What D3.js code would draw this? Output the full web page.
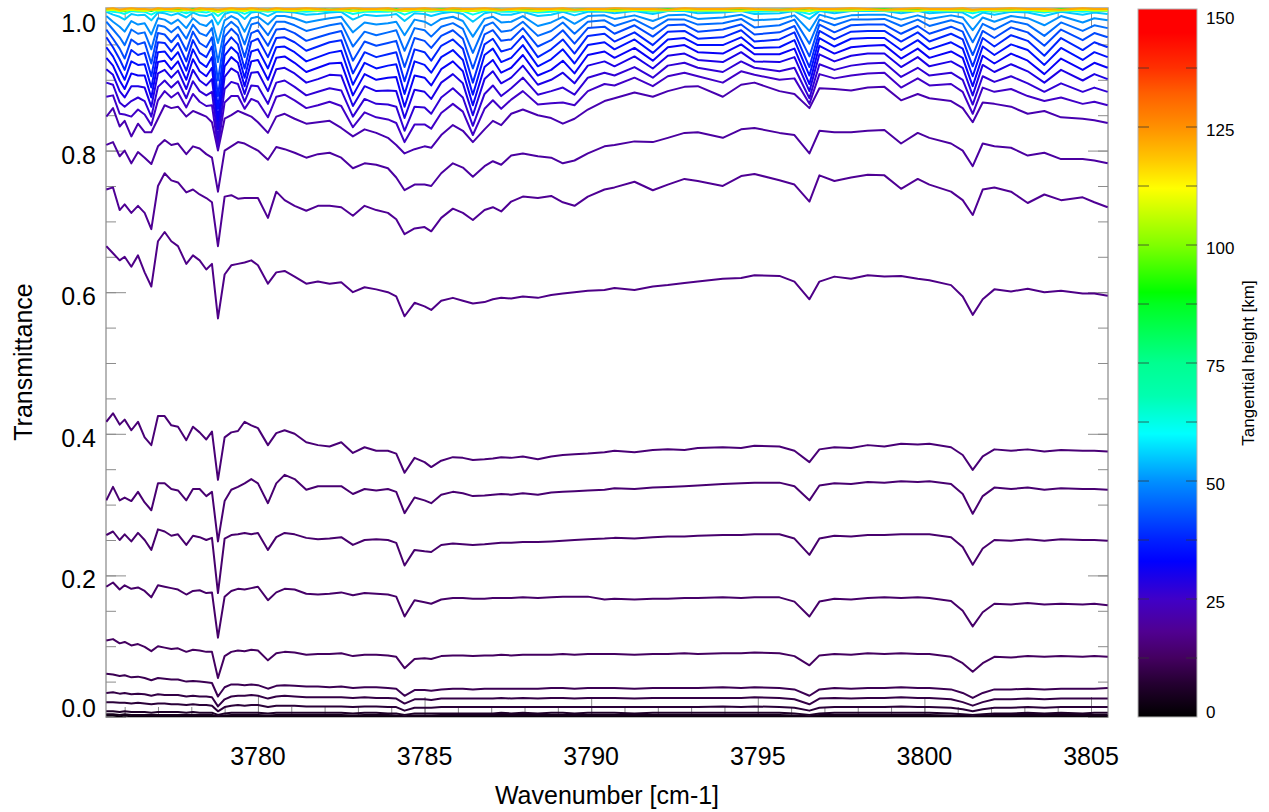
<!DOCTYPE html>
<html>
<head>
<meta charset="utf-8">
<title>Limb transmittance spectra</title>
<script src="https://cdn.jsdelivr.net/npm/d3@7/dist/d3.min.js"></script>
<style>
  html, body { margin: 0; padding: 0; background: #fff; }
  svg { display: block; font-family: "Liberation Sans", Arial, Helvetica, sans-serif; }
</style>
</head>
<body>
<svg id="chart" width="1269" height="812"></svg>
<script>
// Wavenumber grid (cm-1) shared by every spectrum
const wavenumbers = [
  3775.45,3775.65,3775.85,3776.0,3776.2,3776.4,3776.6,3776.8,3777.0,3777.2,
  3777.4,3777.6,3777.85,3778.05,3778.25,3778.45,3778.62,3778.8,3779.0,3779.2,
  3779.4,3779.6,3779.8,3780.0,3780.3,3780.55,3780.8,3781.1,3781.45,3781.8,
  3782.15,3782.5,3782.85,3783.2,3783.55,3783.9,3784.15,3784.4,3784.7,3785.0,
  3785.2,3785.5,3785.85,3786.15,3786.45,3786.8,3787.05,3787.3,3787.6,3787.95,
  3788.4,3788.8,3789.15,3789.5,3789.9,3790.4,3790.7,3791.3,3791.85,3792.3,
  3792.8,3793.2,3793.95,3794.5,3794.9,3795.65,3796.1,3796.55,3796.85,3797.3,
  3797.8,3798.3,3798.8,3799.3,3799.8,3800.15,3800.8,3801.15,3801.45,3801.75,
  3802.1,3802.6,3803.1,3803.6,3804.1,3804.75,3805.1,3805.5];

// Transmittance in thousandths, one array per tangent height
const tr02km = [
  2,2,1,2,1,1,1,1,1,1, 1,1,1,1,1,1,1,0,1,1, 1,1,1,1,1,1,1,1,1,1,
  1,1,1,1,1,1,1,0,1,1, 1,1,1,1,1,1,1,1,1,1, 1,1,1,1,1,1,1,1,1,1,
  1,1,1,1,1,1,1,0,1,1, 1,1,1,1,1,1,1,1,0,1, 1,1,1,1,1,1,1,1];
const tr04km = [
  4,4,3,4,3,3,3,3,3,3, 3,3,3,3,3,3,3,1,2,3, 3,3,3,3,2,3,3,3,3,3,
  3,3,2,3,3,3,2,1,2,2, 2,3,3,3,3,3,3,3,3,3, 3,3,3,3,3,3,3,3,3,3,
  3,3,3,3,3,3,2,1,3,3, 3,3,3,3,3,3,2,2,1,2, 3,3,3,3,3,3,3,3];
const tr06km = [
  8,8,7,8,7,7,7,6,7,7, 7,7,6,7,6,6,6,3,5,6, 6,6,6,6,5,6,6,6,6,6,
  6,6,5,6,6,5,5,3,5,5, 5,5,5,5,5,5,5,6,5,6, 5,6,6,5,6,6,6,5,6,6,
  6,6,6,6,6,6,5,3,5,6, 6,6,6,6,6,6,5,4,3,4, 5,5,6,5,6,5,6,6];
const tr08km = [
  21,21,20,20,19,20,19,18,19,19, 18,18,17,18,17,17,16,8,14,16,
  17,16,17,17,14,16,16,16,15,15, 15,15,14,15,15,14,14,9,13,13,
  13,14,14,14,14,14,14,14,14,14, 14,14,14,14,14,14,14,14,14,14,
  14,14,15,14,15,14,13,9,13,14, 14,14,14,15,14,14,13,11,8,11,
  13,13,14,13,14,14,14,14];
const tr09_5km = [
  34,35,33,34,32,33,32,30,32,31, 31,31,29,30,29,29,28,15,25,29,
  30,30,31,30,26,29,30,29,28,28, 28,28,27,28,27,27,26,19,25,25,
  24,26,26,26,26,26,26,27,26,27, 26,27,27,26,27,27,27,26,27,27,
  27,27,27,27,28,27,25,18,26,27, 26,27,27,28,27,27,25,21,16,21,
  25,25,26,25,26,26,26,26];
const tr11km = [
  61,60,58,59,56,57,55,52,55,54, 53,53,50,51,50,49,48,29,42,46,
  46,45,46,45,40,44,45,44,43,43, 42,43,41,42,42,41,40,30,38,38,
  37,39,40,40,39,40,40,40,40,40, 40,41,41,40,41,41,41,40,41,41,
  41,41,42,41,42,41,39,30,39,41, 40,41,41,42,41,41,39,34,27,34,
  39,39,40,39,40,40,40,41];
const tr12_5km = [
  108,110,104,106,101,103,99,93,100,98, 96,97,92,95,94,92,92,55,86,92,
  94,93,95,94,80,90,92,91,88,89, 89,90,86,88,88,87,85,69,82,83,
  82,86,87,87,86,87,87,88,87,88, 88,88,89,88,89,89,89,88,89,89,
  90,89,90,90,91,90,86,73,87,89, 88,90,89,90,89,89,85,76,64,76,
  85,84,86,85,86,85,86,85];
const tr13_5km = [
  184,190,180,186,181,183,178,169,186,184, 182,180,173,178,179,175,176,112,170,178,
  181,180,182,184,165,176,181,180,174,173, 174,176,172,175,174,173,170,142,165,162,
  160,166,168,168,167,167,168,168,168,169, 168,169,170,170,170,166,167,166,167,167,
  168,168,169,168,169,169,163,142,163,167, 166,168,169,168,169,168,164,150,128,148,
  160,159,161,159,160,159,160,158];
const tr14km = [
  257,262,250,258,248,260,250,236,265,262, 256,258,243,256,254,250,253,175,252,257,
  258,260,258,260,236,254,260,258,253,251, 252,254,243,250,251,250,246,214,236,234,
  233,243,245,244,243,244,245,246,246,247, 247,248,249,250,251,252,253,252,254,255,
  255,256,257,257,258,258,252,229,252,256, 255,257,257,258,258,258,254,240,215,238,
  250,249,251,249,251,250,250,249];
const tr14_5km = [
  306,325,306,310,305,318,303,292,330,330, 322,320,306,322,322,312,318,248,305,321,
  325,330,336,330,302,330,342,336,321,326, 326,326,315,322,320,322,318,288,310,306,
  302,314,318,316,312,313,314,315,314,316, 314,317,318,319,320,321,323,322,324,325,
  326,327,329,330,331,331,326,306,327,330, 329,332,331,333,332,333,329,315,287,312,
  324,322,324,321,323,322,322,321];
const tr15km = [
  417,429,413,420,405,417,395,384,425,425, 412,410,391,410,402,392,403,335,395,402,
  404,417,412,408,384,401,405,400,388,384, 382,388,373,381,376,376,372,345,366,360,
  353,362,367,366,363,364,365,367,366,368, 364,368,370,371,372,374,376,374,377,378,
  377,380,381,380,383,382,376,360,378,381, 380,384,382,386,385,386,381,370,349,368,
  378,376,378,375,377,376,376,375];
const tr17km = [
  665,655,645,650,636,652,628,608,672,685, 672,665,640,652,645,632,640,563,625,638,
  640,642,645,638,612,628,630,622,612,615, 612,614,600,607,604,600,594,566,585,580,
  575,588,592,588,584,586,590,592,591,594, 592,596,598,600,602,603,606,603,608,610,
  613,615,619,620,624,623,615,590,615,622, 619,624,622,623,619,617,610,594,568,590,
  604,601,605,600,602,598,598,595];
const tr18_5km = [
  745,748,716,724,712,722,712,689,750,768, 758,755,741,745,738,733,727,665,735,737,
  732,733,733,733,705,742,730,722,715,722, 722,720,708,722,716,712,703,682,690,692,
  686,705,718,712,702,716,720,714,728,735, 733,736,727,722,735,745,748,756,744,752,
  760,757,750,764,767,758,752,728,765,757, 762,766,765,746,760,752,742,730,709,745,
  748,742,726,738,730,734,727,720];
const tr20km = [
  808,812,792,800,782,798,790,781,806,815, 808,810,795,806,803,795,790,742,800,806,
  812,810,805,800,787,805,802,797,790,795, 797,790,775,782,780,775,762,744,752,752,
  750,768,782,776,763,778,785,780,793,796, 792,790,782,786,796,806,808,813,812,818,
  825,826,818,830,832,825,822,796,828,826, 826,828,829,810,825,818,810,800,778,810,
  806,804,793,797,788,788,786,782];
const tr22km = [
  848,860,834,842,820,838,826,826,845,864, 860,862,848,856,852,848,840,800,845,850,
  856,852,848,840,825,848,852,845,838,840, 842,832,820,830,825,818,808,796,802,806,
  804,822,836,828,812,830,842,836,852,858, 850,846,838,845,858,870,874,882,876,884,
  890,891,876,893,896,884,880,860,888,887, 885,889,890,871,880,874,870,860,840,868,
  866,862,852,856,847,845,843,839];
const tr25km = [
  876,878,852,851,848,858,851,836,871,884, 875,882,861,880,869,863,864,805,868,877,
  877,859,873,869,847,876,879,871,860,864, 869,863,833,854,847,844,839,812,837,837,
  831,853,866,855,822,859,871,859,872,884, 865,867,868,864,884,894,892,903,891,905,
  910,905,896,912,907,900,902,866,908,902, 906,909,910,889,902,892,894,883,852,889,
  883,887,877,870,875,866,869,864];
const tr27km = [
  896,893,868,862,870,875,870,848,890,899, 889,898,874,898,884,878,883,816,887,897,
  894,869,892,891,866,896,899,890,878,883, 888,885,848,873,866,865,862,828,862,861,
  852,875,888,875,835,880,892,877,888,903, 879,884,889,879,903,910,906,918,903,920,
  924,917,911,926,917,912,917,874,922,914, 920,923,924,904,917,906,910,900,865,905,
  897,905,895,883,895,883,889,883];
const tr29_5km = [
  915,907,884,875,891,891,889,862,909,914, 903,913,887,914,899,892,901,830,904,916,
  910,880,910,911,884,915,917,909,896,901, 907,906,863,891,884,885,884,846,886,883,
  873,896,908,895,850,901,912,895,903,920, 893,900,910,895,920,926,919,933,916,934,
  937,928,925,939,926,925,932,884,936,926, 934,937,937,918,932,919,926,917,878,921,
  911,922,912,896,914,899,908,901];
const tr32km = [
  931,920,899,887,909,906,906,875,925,927, 915,926,900,929,912,905,917,843,919,932,
  924,891,926,928,900,931,933,924,911,917, 923,924,878,908,900,903,904,862,906,903,
  892,915,926,912,864,918,928,910,917,935, 906,914,927,909,935,940,931,945,927,946,
  949,939,937,950,936,936,944,894,948,937, 946,948,949,930,944,931,940,931,891,934,
  923,937,927,908,930,914,924,917];
const tr35km = [
  946,933,914,900,926,921,922,889,939,940, 928,939,913,943,925,918,932,859,934,946,
  937,903,940,943,916,946,947,939,926,932, 938,941,893,924,916,920,922,880,926,921,
  910,932,942,928,879,935,944,925,931,949, 919,929,943,923,949,953,943,957,938,957,
  959,949,949,960,945,946,956,906,959,947, 958,959,959,942,956,943,953,944,905,947,
  935,950,942,921,945,928,939,932];
const tr38km = [
  960,946,929,914,942,935,938,905,953,952, 940,952,926,956,938,932,947,877,948,960,
  950,916,954,958,932,959,960,953,941,947, 953,956,909,939,932,936,939,898,943,939,
  927,948,957,944,896,950,958,940,944,962, 932,943,957,937,962,965,954,967,949,968,
  969,958,960,970,954,957,967,918,969,957, 968,969,969,954,967,954,965,957,919,959,
  947,963,955,934,959,942,953,946];
const tr42km = [
  971,958,944,930,957,950,953,923,966,964, 953,964,941,968,952,946,960,899,961,972,
  963,932,966,970,948,971,972,966,955,960, 965,969,927,954,948,952,955,918,959,955,
  945,962,970,958,916,964,970,955,957,973, 947,956,970,951,973,975,965,977,961,977,
  978,968,971,978,964,967,976,933,978,967, 977,978,978,965,976,965,975,968,935,969,
  959,974,967,948,971,956,966,960];
const tr46km = [
  982,971,960,949,971,965,967,943,977,975, 967,975,958,978,966,962,973,925,973,982,
  974,950,978,981,963,982,982,977,969,973, 977,980,947,968,963,967,970,941,973,970,
  961,975,980,972,938,976,981,968,970,982, 962,969,981,965,982,984,976,985,972,985,
  985,978,980,986,974,977,985,951,985,977, 985,985,986,976,985,976,984,979,953,979,
  971,983,978,962,981,969,977,973];
const tr50km = [
  990,982,975,968,983,978,980,964,987,985, 979,985,973,987,979,976,984,952,984,990,
  985,968,987,989,978,990,990,987,981,984, 987,989,967,981,978,980,982,963,985,982,
  977,986,989,983,961,986,989,981,982,990, 976,981,989,979,990,991,986,991,983,991,
  992,986,988,992,984,986,991,969,992,986, 991,992,992,985,991,986,991,988,970,988,
  982,990,987,977,990,981,987,984];
const tr55km = [
  996,992,989,985,993,991,992,984,995,994, 991,994,988,995,991,990,993,978,993,996,
  994,986,995,996,990,996,996,995,992,993, 995,996,985,992,990,991,993,983,994,993,
  990,994,996,993,982,994,996,992,992,996, 990,992,996,991,996,996,994,997,993,997,
  997,994,995,997,993,994,997,986,997,994, 997,997,997,994,997,994,996,995,987,995,
  992,996,995,990,996,992,995,993];
const tr62km = [
  998,996,995,993,997,996,996,992,997,997, 996,997,994,997,996,995,997,990,997,998,
  997,993,997,998,996,998,998,997,996,997, 997,998,993,996,996,996,997,992,997,997,
  996,997,998,997,992,997,998,996,996,998, 995,996,998,996,998,998,997,998,996,998,
  998,997,997,998,996,997,998,993,998,997, 998,998,998,997,998,997,998,997,994,997,
  996,998,997,995,998,996,997,997];
const tr85km = [
  999,1000,998,997,999,1000,999,997,1000,999, 999,1000,998,1000,999,999,1000,996,999,1000,
  1000,998,1000,999,999,1000,1000,999,999,1000, 999,1000,998,999,999,999,1000,997,999,1000,
  999,1000,1000,999,997,999,1000,999,999,1000, 998,999,1000,999,1000,1000,999,1000,999,1000,
  1000,999,1000,1000,999,999,1000,998,1000,999, 1000,1000,1000,999,1000,999,1000,999,998,999,
  999,1000,999,998,1000,999,1000,999];
const tr108km = [
  998,999,997,998,999,998,997,999,998,999, 998,997,999,998,998,999,997,996,998,999,
  998,997,999,998,998,999,998,997,999,998, 999,998,997,998,999,998,998,997,999,998,
  998,999,998,997,997,999,998,998,999,998, 997,999,998,998,999,998,997,999,998,998,
  999,998,998,997,999,998,998,997,999,998, 998,999,998,998,997,999,998,998,997,999,
  998,998,999,997,998,999,998,998];
const tr122km = [
  1000,1001,999,1000,1001,1000,1000,999,1001,1000, 1000,1001,1000,999,1001,1000,1000,999,1000,1001,
  1000,1000,1001,1000,999,1001,1000,1000,1001,1000, 999,1000,1001,1000,1000,1001,999,1000,1000,1001,
  1000,999,1001,1000,1000,1001,1000,999,1000,1001, 1000,1000,1001,999,1000,1000,1001,1000,1000,999,
  1001,1000,1000,1001,1000,999,1000,1001,1000,1000, 1001,1000,999,1000,1001,1000,1000,1001,999,1000,
  1000,1001,1000,1000,999,1001,1000,1000];

// Tangent height (km) of each spectrum, lowest first
const tangentHeights = [2, 4, 6, 8, 9.5, 11, 12.5, 13.5, 14, 14.5, 15, 17, 18.5, 20, 22,
                        25, 27, 29.5, 32, 35, 38, 42, 46, 50, 55, 62, 85, 108, 122];
const spectra = [tr02km, tr04km, tr06km, tr08km, tr09_5km, tr11km, tr12_5km, tr13_5km, tr14km,
                 tr14_5km, tr15km, tr17km, tr18_5km, tr20km, tr22km, tr25km, tr27km, tr29_5km,
                 tr32km, tr35km, tr38km, tr42km, tr46km, tr50km, tr55km, tr62km, tr85km, tr108km, tr122km];

// Axis ticks and labels
const yMajorTicks = [0, 0.2, 0.4, 0.6, 0.8, 1.0];
const yTickLabels = ["0.0", "0.2", "0.4", "0.6", "0.8", "1.0"];
const xMajorTicks = [3780, 3785, 3790, 3795, 3800, 3805];
const colorbarTicks = [0, 25, 50, 75, 100, 125, 150];

// Rainbow colour table: tangent height (km) -> colour
const colorStopsKm = [0, 7, 12.5, 18, 25, 33, 37.5, 50, 60, 68, 75, 87.5, 90, 100, 112, 118, 125, 132, 137.5, 145, 150];
const colorStops = ["#000000", "#240030", "#440060", "#500090", "#4000c8", "#0000ff", "#0020ff", "#0090ff",
                    "#00ffff", "#00ffb0", "#00ff90", "#00ff20", "#00ff00", "#80ff00", "#ffff00", "#ffc800",
                    "#ff9000", "#ff6000", "#ff3000", "#ff0000", "#ff0000"];

const svg = d3.select("#chart");
const plot = { left: 106, right: 1108, top: 8, bottom: 717 };
const x = d3.scaleLinear().domain([3775.44, 3805.51]).range([plot.left, plot.right]);
const y = d3.scaleLinear().domain([0, 1.0014]).range([plot.bottom, plot.top]);
const heightColor = d3.scaleLinear().domain(colorStopsKm).range(colorStops)
  .interpolate(d3.interpolateRgb).clamp(true);

// Plot frame
svg.append("rect")
  .attr("x", plot.left).attr("y", plot.top)
  .attr("width", plot.right - plot.left).attr("height", plot.bottom - plot.top)
  .attr("fill", "none").attr("stroke", "#a0a0a0").attr("stroke-width", 1.5);

// Inward ticks on all four sides
function tickAxis(axis, transform, size, values) {
  const g = svg.append("g").attr("transform", transform)
    .call(axis.tickValues(values).tickSize(size).tickFormat(""));
  g.select(".domain").remove();
  g.selectAll(".tick line").attr("stroke", "#8c8c8c").attr("stroke-width", 1);
}
const yMinor = d3.range(0, 21).map(i => i * 0.05);
const xMinor = d3.range(3776, 3806);
tickAxis(d3.axisLeft(y), `translate(${plot.left},0)`, -10, yMinor);
tickAxis(d3.axisLeft(y), `translate(${plot.left},0)`, -20, yMajorTicks);
tickAxis(d3.axisRight(y), `translate(${plot.right},0)`, -10, yMinor);
tickAxis(d3.axisRight(y), `translate(${plot.right},0)`, -20, yMajorTicks);
tickAxis(d3.axisBottom(x), `translate(0,${plot.bottom})`, -10, xMinor);
tickAxis(d3.axisBottom(x), `translate(0,${plot.bottom})`, -20, xMajorTicks);
tickAxis(d3.axisTop(x), `translate(0,${plot.top})`, -10, xMinor);
tickAxis(d3.axisTop(x), `translate(0,${plot.top})`, -20, xMajorTicks);

// Spectra
const defs = svg.append("defs");
defs.append("clipPath").attr("id", "plotClip").append("rect")
  .attr("x", plot.left).attr("y", plot.top - 1)
  .attr("width", plot.right - plot.left).attr("height", plot.bottom - plot.top + 1);

const line = d3.line()
  .x((d, i) => x(wavenumbers[i]))
  .y(d => y(d / 1000));

svg.append("g").attr("clip-path", "url(#plotClip)")
  .selectAll("path")
  .data(spectra.map((values, i) => ({ km: tangentHeights[i], values })))
  .join("path")
  .attr("d", d => line(d.values))
  .attr("fill", "none")
  .attr("stroke", d => heightColor(d.km))
  .attr("stroke-width", 2)
  .attr("stroke-linejoin", "round");

// Tick labels
svg.append("g").selectAll("text").data(xMajorTicks).join("text")
  .attr("x", d => x(d)).attr("y", 765)
  .attr("text-anchor", "middle").attr("font-size", 25).attr("fill", "#000")
  .text(d => d);

svg.append("g").selectAll("text").data(yMajorTicks).join("text")
  .attr("x", 96)
  .attr("y", d => d === 0 ? plot.bottom : d === 1 ? 32 : y(d) + 13)
  .attr("text-anchor", "end").attr("font-size", 25).attr("fill", "#000")
  .text((d, i) => yTickLabels[i]);

// Axis titles
svg.append("text").attr("x", (plot.left + plot.right) / 2).attr("y", 804)
  .attr("text-anchor", "middle").attr("font-size", 25).text("Wavenumber [cm-1]");
svg.append("text").attr("transform", "translate(32,362) rotate(-90)")
  .attr("text-anchor", "middle").attr("font-size", 25).text("Transmittance");

// Colour bar
const cb = { left: 1138, right: 1197, top: 9, bottom: 717 };
const cbScale = d3.scaleLinear().domain([0, 150]).range([cb.bottom, cb.top]);
const grad = defs.append("linearGradient").attr("id", "heightRamp")
  .attr("x1", 0).attr("y1", 1).attr("x2", 0).attr("y2", 0);
grad.selectAll("stop").data(colorStopsKm).join("stop")
  .attr("offset", d => d / 150)
  .attr("stop-color", (d, i) => colorStops[i]);

svg.append("rect")
  .attr("x", cb.left).attr("y", cb.top)
  .attr("width", cb.right - cb.left).attr("height", cb.bottom - cb.top)
  .attr("fill", "url(#heightRamp)").attr("stroke", "#b4b4b4").attr("stroke-width", 1);

const cbTickValues = d3.range(12.5, 150, 12.5);
const cbTicks = svg.append("g").attr("stroke", "#333").attr("stroke-opacity", 0.75);
cbTicks.selectAll("line.l").data(cbTickValues).join("line").attr("class", "l")
  .attr("x1", cb.left).attr("x2", cb.left + 11)
  .attr("y1", d => cbScale(d)).attr("y2", d => cbScale(d));
cbTicks.selectAll("line.r").data(cbTickValues).join("line").attr("class", "r")
  .attr("x1", cb.right - 11).attr("x2", cb.right)
  .attr("y1", d => cbScale(d)).attr("y2", d => cbScale(d));

svg.append("g").selectAll("text").data(colorbarTicks).join("text")
  .attr("x", 1206)
  .attr("y", d => d === 150 ? 24 : d === 0 ? 718 : cbScale(d) + 9)
  .attr("font-size", 17).attr("fill", "#000")
  .text(d => d);

svg.append("text").attr("transform", "translate(1254,363) rotate(-90)")
  .attr("text-anchor", "middle").attr("font-size", 17).text("Tangential height [km]");
</script>
</body>
</html>
